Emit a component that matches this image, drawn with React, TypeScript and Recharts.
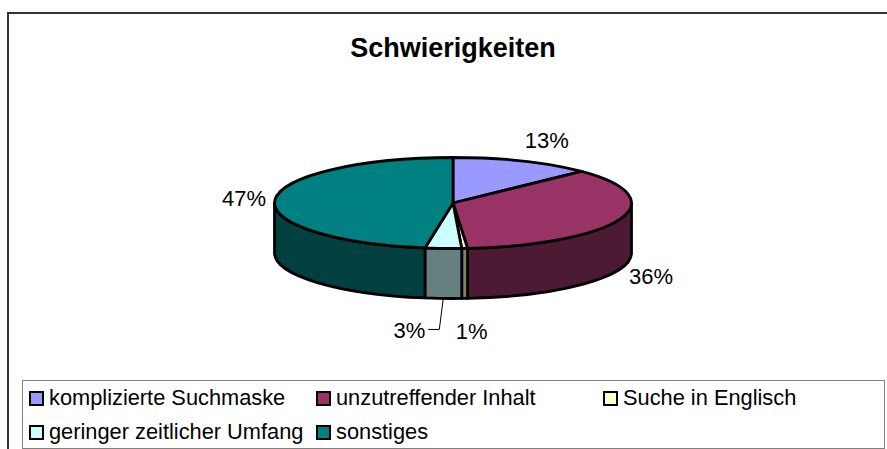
import { PieChart, Pie, Legend } from 'recharts';

const categories = [
  'komplizierte Suchmaske',
  'unzutreffender Inhalt',
  'Suche in Englisch',
  'geringer zeitlicher Umfang',
  'sonstiges',
];
const shares = [12.8, 35.9, 0.52, 3.29, 47.49];
const topColors = ['#9999FF', '#993366', '#FFFFCC', '#CCFFFF', '#008080'];
const wallColors = ['#4C4C80', '#4C1A33', '#808066', '#668080', '#004040'];

const tableData = categories.map((name, i) => ({
  name,
  value: shares[i],
  fill: topColors[i],
  wall: wallColors[i],
}));

// flat ellipse: vertical radius / horizontal radius, wall height in px
const SQUASH = 0.255;
const DEPTH = 50;
const OUTLINE = 2.8;
const RAD = Math.PI / 180;

const rimPoint = (cx: number, cy: number, r: number, deg: number) => [
  cx + r * Math.cos(deg * RAD),
  cy - r * SQUASH * Math.sin(deg * RAD),
];

function Slice3D({ cx, cy, outerRadius, startAngle, endAngle, fill, wall }: any) {
  const r = outerRadius;
  const ry = r * SQUASH;
  const [x1, y1] = rimPoint(cx, cy, r, startAngle);
  const [x2, y2] = rimPoint(cx, cy, r, endAngle);
  const large = Math.abs(endAngle - startAngle) > 180 ? 1 : 0;
  const top = `M${cx},${cy} L${x1},${y1} A${r},${ry} 0 ${large} 1 ${x2},${y2} Z`;

  // only the part of the rim facing the viewer gets a wall (sin < 0)
  const normStart = ((startAngle % 360) + 360) % 360;
  const span = startAngle - endAngle;
  let wallPath = null;
  const from = normStart === 0 ? 360 : normStart;
  const to = from - span;
  const a = Math.min(from, 360);
  const b = Math.max(to, 180);
  if (from > 180 && a > b) {
    const [wx1, wy1] = rimPoint(cx, cy, r, a);
    const [wx2, wy2] = rimPoint(cx, cy, r, b);
    wallPath = `M${wx1},${wy1} A${r},${ry} 0 0 1 ${wx2},${wy2} L${wx2},${wy2 + DEPTH} A${r},${ry} 0 0 0 ${wx1},${wy1 + DEPTH} Z`;
  } else if (to < 0) {
    // slice wraps past 3 o'clock into the lower half
    const b2 = Math.max(to + 360, 180);
    const [wx1, wy1] = rimPoint(cx, cy, r, 360);
    const [wx2, wy2] = rimPoint(cx, cy, r, b2);
    wallPath = `M${wx1},${wy1} A${r},${ry} 0 0 1 ${wx2},${wy2} L${wx2},${wy2 + DEPTH} A${r},${ry} 0 0 0 ${wx1},${wy1 + DEPTH} Z`;
  }

  return (
    <g>
      {wallPath && <path d={wallPath} fill={wall} stroke="#000" strokeWidth={OUTLINE} strokeLinejoin="round" />}
      <path d={top} fill={fill} stroke="#000" strokeWidth={OUTLINE} strokeLinejoin="round" />
    </g>
  );
}

// nudges from the rim point of each slice to its label centre
const labelNudge = [
  [24, -21],
  [31, 57],
  [7, 83],
  [-34, 82],
  [-31, -1],
];

function PercentLabel({ cx, cy, outerRadius, midAngle, value, index }: any) {
  const [rx, ry] = rimPoint(cx, cy, outerRadius, midAngle);
  const x = rx + labelNudge[index][0];
  const y = ry + labelNudge[index][1];
  return (
    <g>
      {index === 3 && (
        <polyline
          points={`${rx},${ry + DEPTH} ${rx - 4},${y - 1} ${rx - 15},${y - 1}`}
          fill="none"
          stroke="#000"
          strokeWidth={1}
        />
      )}
      <text
        x={x}
        y={y}
        textAnchor="middle"
        dominantBaseline="central"
        fontFamily="Liberation Sans"
        fontSize={22}
        fill="#000"
      >
        {Math.round(value)}%
      </text>
    </g>
  );
}

function LegendBox({ payload }: any) {
  return (
    <div
      style={{
        boxSizing: 'border-box',
        width: 863,
        height: 69,
        border: '1px solid #808080',
        background: '#fff',
        display: 'grid',
        gridTemplateColumns: '287px 287px 1fr',
        gridTemplateRows: '34px 34px',
        paddingLeft: 6,
        fontFamily: 'Liberation Sans',
        fontSize: 21.8,
        color: '#000',
      }}
    >
      {(payload || []).map((item: any) => (
        <div key={item.value} style={{ display: 'flex', alignItems: 'center', gap: 5 }}>
          <span
            style={{
              boxSizing: 'border-box',
              width: 15,
              height: 15,
              border: '2.5px solid #000',
              background: item.payload?.fill ?? item.color,
            }}
          />
          <span>{item.value}</span>
        </div>
      ))}
    </div>
  );
}

export default function App() {
  return (
    <div style={{ position: 'absolute', left: 0, top: 0, width: 887, height: 449, background: '#fff', overflow: 'hidden' }}>
      <div style={{ position: 'absolute', left: 7, top: 12, width: 880, height: 437, borderTop: '2px solid #333', borderLeft: '2px solid #333' }} />
      <PieChart
        width={887}
        height={449}
        margin={{ top: 0, right: 0, bottom: 0, left: 0 }}
        style={{ position: 'absolute', left: 0, top: 0 }}
      >
        <text x={453} y={48} textAnchor="middle" dominantBaseline="central" fontFamily="Liberation Sans" fontWeight="bold" fontSize={27} fill="#000">
          Schwierigkeiten
        </text>
        <Pie
          data={tableData}
          dataKey="value"
          nameKey="name"
          cx={453}
          cy={203}
          innerRadius={0}
          outerRadius={178.5}
          startAngle={90}
          endAngle={-270}
          paddingAngle={0}
          shape={Slice3D}
          label={PercentLabel}
          labelLine={false}
          isAnimationActive={false}
        />
        <Legend
          content={LegendBox}
          itemSorter={null}
          wrapperStyle={{ position: 'absolute', left: 22, top: 380, width: 863, height: 69 }}
        />
      </PieChart>
    </div>
  );
}
